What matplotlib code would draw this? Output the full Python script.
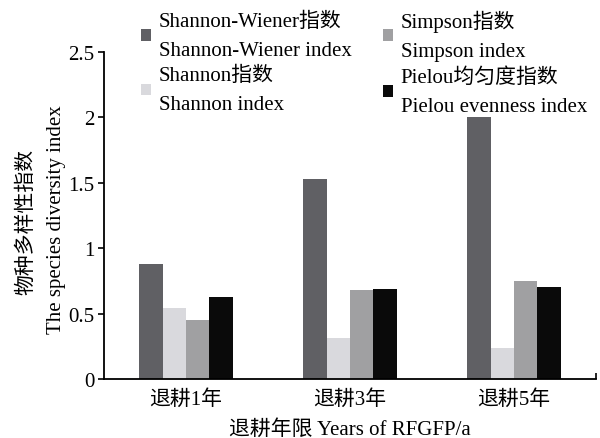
import matplotlib
matplotlib.use("Agg")
import matplotlib.pyplot as plt
import numpy as np

plt.rcParams['font.family'] = ['Liberation Serif', 'Noto Sans CJK SC']

categories = ["退耕1年", "退耕3年", "退耕5年"]
series_names = ["Shannon-Wiener指数\nShannon-Wiener index",
                "Shannon指数\nShannon index",
                "Simpson指数\nSimpson index",
                "Pielou均匀度指数\nPielou evenness index"]
shannon_wiener = [0.88, 1.53, 2.00]
shannon = [0.54, 0.315, 0.24]
simpson = [0.45, 0.68, 0.75]
pielou = [0.63, 0.69, 0.70]
colors = ["#606064", "#d9d9dd", "#a0a0a2", "#0a0a0a"]
yticks = [0, 0.5, 1, 1.5, 2, 2.5]
ytick_labels = ["0", "0.5", "1", "1.5", "2", "2.5"]

values = [shannon_wiener, shannon, simpson, pielou]

W, H = 600, 439
fig = plt.figure(figsize=(W / 100, H / 100), dpi=100)
ax = fig.add_axes([104 / W, (H - 380) / H, 492 / W, 327 / H])

x = np.arange(len(categories))
w = 0.143
handles = []
for i, (vals, c) in enumerate(zip(values, colors)):
    b = ax.bar(x + (i - 1.5) * w, vals, width=w, color=c, edgecolor='none')
    handles.append(b)

ax.set_xlim(-0.5, 2.5)
ax.set_ylim(0, 2.5)
ax.set_yticks(yticks)
ax.set_yticklabels(ytick_labels)
ax.set_xticks(x)
ax.set_xticklabels(categories)
ax.set_xticks([2.5], minor=True)
ax.tick_params(axis='x', which='major', length=0, labelsize=15, pad=7)
ax.tick_params(axis='x', which='minor', length=4, direction='in', width=1.2)
ax.tick_params(axis='y', length=4, direction='out', labelsize=15, width=1.2, pad=3)
for s in ['top', 'right']:
    ax.spines[s].set_visible(False)
for s in ['left', 'bottom']:
    ax.spines[s].set_linewidth(1.3)

ax.set_xlabel("退耕年限 Years of RFGFP/a", fontsize=15, labelpad=8)

fig.text(27 / W, 1 - 222 / H, "物种多样性指数", rotation=90, fontsize=15,
         ha='center', va='center')
fig.text(57 / W, 1 - 220 / H, "The species diversity index", rotation=90,
         fontsize=15, ha='center', va='center')

leg = fig.legend(handles, series_names, ncol=2, loc='upper left',
                 bbox_to_anchor=(141 / W, 1 - 11 / H), bbox_transform=fig.transFigure,
                 frameon=False, fontsize=15,
                 handlelength=0.5, handleheight=0.5, handletextpad=0.35,
                 columnspacing=1.5, labelspacing=0.3, borderpad=0,
                 borderaxespad=0)
for t in leg.get_texts():
    t.set_linespacing(1.7)

fig.savefig("out.png", dpi=100)
